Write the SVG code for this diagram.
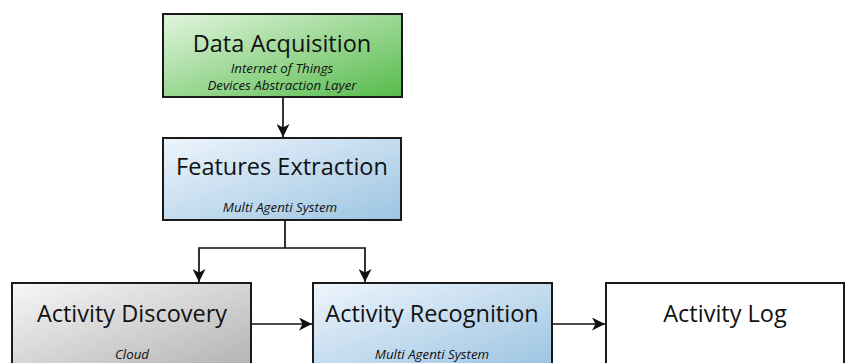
<svg xmlns="http://www.w3.org/2000/svg" width="845" height="363" viewBox="0 0 845 363">
<style>
.box{stroke:#1a1a1a;stroke-width:2}
.t{font-family:"Open Sans","Liberation Sans",sans-serif;font-size:23.5px;fill:#111;text-anchor:middle}
.s{font-family:"Open Sans","Liberation Sans",sans-serif;font-size:13.3px;font-style:italic;fill:#111;text-anchor:middle}
.c{fill:none;stroke:#111;stroke-width:1.7}
</style>
<defs>
<linearGradient id="gGreen" x1="0" y1="0" x2="1" y2="1"><stop offset="0" stop-color="#e2f5de"/><stop offset="1" stop-color="#56bb4b"/></linearGradient>
<linearGradient id="gBlue" x1="0" y1="0" x2="1" y2="1"><stop offset="0" stop-color="#eef5fc"/><stop offset="1" stop-color="#9cc4e2"/></linearGradient>
<linearGradient id="gGrey" x1="0" y1="0" x2="1" y2="1"><stop offset="0" stop-color="#f7f7f7"/><stop offset="1" stop-color="#b3b3b3"/></linearGradient>
<marker id="arr" viewBox="0 0 13 13" refX="13" refY="6.5" markerWidth="13" markerHeight="13" markerUnits="userSpaceOnUse" orient="auto">
<path d="M0,0 L13,6.5 L0,13 L3.5,6.5 Z" fill="#111"/>
</marker>
</defs>
<g id="connectors">
<path class="c" d="M283,97 V137" marker-end="url(#arr)"/>
<path class="c" d="M285,220 V248 H199 V282" marker-end="url(#arr)"/>
<path class="c" d="M285,248 H365 V282" marker-end="url(#arr)"/>
<path class="c" d="M251,324 H312" marker-end="url(#arr)"/>
<path class="c" d="M552,324 H605" marker-end="url(#arr)"/>
</g>
<g id="data-acquisition">
<rect class="box" x="163" y="14" width="239" height="83" fill="url(#gGreen)"/>
<text class="t" x="282" y="52">Data Acquisition</text>
<text class="s" x="282" y="73">Internet of Things</text>
<text class="s" x="282" y="90">Devices Abstraction Layer</text>
</g>
<g id="features-extraction">
<rect class="box" x="163" y="138" width="238" height="82" fill="url(#gBlue)"/>
<text class="t" x="282" y="175">Features Extraction</text>
<text class="s" x="280" y="212">Multi Agenti System</text>
</g>
<g id="activity-discovery">
<rect class="box" x="12" y="283" width="239" height="84" fill="url(#gGrey)"/>
<text class="t" x="132" y="322">Activity Discovery</text>
<text class="s" x="132" y="359">Cloud</text>
</g>
<g id="activity-recognition">
<rect class="box" x="313" y="283" width="239" height="84" fill="url(#gBlue)"/>
<text class="t" x="432" y="322">Activity Recognition</text>
<text class="s" x="432" y="359">Multi Agenti System</text>
</g>
<g id="activity-log">
<rect class="box" x="606" y="283" width="238" height="84" fill="#fff"/>
<text class="t" x="725" y="322">Activity Log</text>
</g>
</svg>
